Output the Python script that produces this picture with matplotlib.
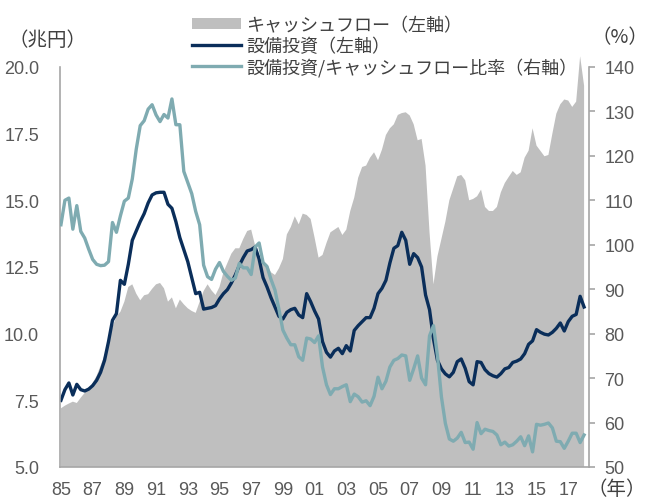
import numpy as np
import matplotlib
matplotlib.use("Agg")
import matplotlib.pyplot as plt
from matplotlib.patches import Patch
from matplotlib.lines import Line2D
from matplotlib import font_manager

# quarterly data, 1985Q1 - 2018Q1
start_year = 1985
cash_flow = [
    7.2, 7.3, 7.38, 7.45, 7.4, 7.6, 7.78, 7.93,
    8.15, 8.42, 8.8, 9.2, 9.7, 10.25, 10.65, 10.82,
    11.2, 11.75, 11.85, 11.5, 11.25, 11.44, 11.48, 11.68,
    11.85, 11.9, 11.7, 11.2, 11.36, 10.95, 11.28, 11.1,
    10.95, 10.85, 10.78, 11.2, 11.6, 11.85, 11.62, 11.45,
    11.75, 12.3, 12.65, 13.0, 13.2, 13.2, 13.55, 13.85,
    13.9, 13.3, 12.85, 12.7, 12.6, 12.3, 12.2, 12.45,
    12.8, 13.72, 14.0, 14.4, 14.1, 14.5, 14.45, 14.3,
    13.6, 12.85, 12.95, 13.4, 13.8, 13.9, 14.0, 13.7,
    13.9, 14.6, 15.1, 15.85, 16.25, 16.3, 16.6, 16.8,
    16.5, 16.9, 17.45, 17.7, 17.85, 18.2, 18.27, 18.3,
    18.18, 17.85, 17.25, 17.3, 16.3, 13.8, 11.85, 12.9,
    13.55, 14.2, 15.0, 15.45, 15.9, 15.95, 15.75, 15.0,
    15.05, 15.15, 15.4, 14.75, 14.6, 14.6, 14.75, 15.3,
    15.65, 15.88, 16.1, 15.95, 16.05, 16.6, 16.86, 17.7,
    17.05, 16.85, 16.65, 16.7, 17.5, 18.25, 18.6, 18.78,
    18.74, 18.5, 18.7, 20.4, 19.3,
]
capex = [
    7.5, 7.9, 8.15, 7.7, 8.1, 7.9, 7.85, 7.92,
    8.05, 8.25, 8.55, 9.0, 9.7, 10.5, 10.75, 12.0,
    11.85, 12.6, 13.5, 13.85, 14.2, 14.5, 14.9, 15.2,
    15.28, 15.3, 15.3, 14.85, 14.7, 14.2, 13.6, 13.15,
    12.7, 12.1, 11.5, 11.55, 10.92, 10.95, 10.98, 11.05,
    11.3, 11.5, 11.65, 11.9, 12.2, 12.55, 12.85, 13.1,
    13.15, 13.25, 12.8, 12.1, 11.75, 11.35, 11.0, 10.65,
    10.55, 10.8, 10.9, 10.95, 10.7, 10.6, 11.5, 11.2,
    10.85, 10.55, 9.7, 9.3, 9.12, 9.35, 9.45, 9.25,
    9.55, 9.35, 10.12, 10.3, 10.45, 10.6, 10.6, 10.95,
    11.5, 11.7, 12.0, 12.65, 13.2, 13.3, 13.8, 13.5,
    12.6, 13.0, 12.85, 12.5, 11.45, 10.9, 9.8, 9.0,
    8.68, 8.49, 8.38, 8.55, 8.95, 9.05, 8.7, 8.2,
    8.08, 8.95, 8.92, 8.65, 8.5, 8.42, 8.37, 8.5,
    8.68, 8.73, 8.92, 8.97, 9.05, 9.25, 9.6, 9.73,
    10.15, 10.05, 9.98, 9.95, 10.05, 10.2, 10.4, 10.1,
    10.45, 10.65, 10.72, 11.4, 11.0,
]
ratio = [
    104.5, 110.0, 110.5, 103.5, 108.8, 103.0, 101.5, 99.0,
    96.7, 95.6, 95.3, 95.4, 96.2, 105.0, 102.8, 106.5,
    109.8, 110.5, 114.8, 121.5, 126.8, 127.9, 130.5, 131.5,
    129.2, 127.7, 129.3, 128.5, 132.8, 127.0, 127.0, 116.5,
    114.0, 111.5, 107.5, 104.5, 95.4, 92.8, 92.2, 94.5,
    96.0, 94.0, 92.9, 92.0, 92.5, 95.8, 94.8, 94.8,
    93.3, 99.5, 100.4, 96.0, 95.1, 92.2, 89.8, 85.5,
    80.8, 79.0, 77.5, 77.5, 74.8, 74.0, 79.0, 78.8,
    78.0, 79.5, 72.5, 68.5, 66.3, 67.6, 67.6, 68.1,
    68.5, 64.7, 66.4, 65.8, 64.6, 64.9, 63.8, 65.9,
    70.2, 67.6, 69.3, 72.5, 74.0, 74.4, 75.2, 75.0,
    69.5, 72.1, 75.0, 70.0, 68.5, 79.5, 81.8, 75.0,
    65.8, 59.8, 56.3, 55.8, 56.5, 57.8, 55.5, 55.6,
    54.0, 60.0, 57.5, 58.5, 58.2, 58.0, 57.2, 55.0,
    55.6, 54.7, 55.0, 55.8, 56.8, 54.8, 57.0, 53.4,
    59.6, 59.4, 59.6, 59.9, 58.8, 55.8, 55.7, 54.2,
    55.8, 57.6, 57.6, 55.5, 57.2,
]
tick_years = list(range(1985, 2018, 2))
tick_labels = [f"{y % 100:02d}" for y in tick_years]
left_ticks = [5.0, 7.5, 10.0, 12.5, 15.0, 17.5, 20.0]
right_ticks = list(range(50, 141, 10))

names = [f.name for f in font_manager.fontManager.ttflist]
num_font = "Liberation Sans Narrow" if "Liberation Sans Narrow" in names else "Liberation Sans"
jp_font = ["Noto Sans CJK JP", "DejaVu Sans"]
plt.rcParams["font.family"] = [num_font, "Noto Sans CJK JP", "DejaVu Sans"]

txt = "#595959"
label_c = "#404040"
grey = "#BFBFBF"
navy = "#0A2E5A"
teal = "#7FABB1"
spine_c = "#A6A6A6"

x = start_year + np.arange(len(capex)) * 0.25

fig = plt.figure(figsize=(6.48, 5.02), dpi=100)
ax = fig.add_axes([60 / 648, 34 / 502, 529 / 648, 421.4 / 502])
ax.fill_between(x, 0, cash_flow, color=grey, lw=0)
ax.plot(x, capex, color=navy, lw=2.4, solid_joinstyle="round")
ax.set_xlim(1984.94, 2018.31)
ax.set_ylim(5, 20.8)
ax.set_yticks(left_ticks)
ax.set_yticklabels([f"{v:.1f}" for v in left_ticks])
ax.set_xticks(tick_years)
ax.set_xticklabels(tick_labels)
ax.tick_params(axis="both", length=0, labelsize=13, colors=txt)
ax.tick_params(axis="y", pad=15)
ax.tick_params(axis="x", pad=10)
for s in ["top", "right"]:
    ax.spines[s].set_visible(False)
ax.spines["left"].set_bounds(5, 20)
for s in ["left", "bottom"]:
    ax.spines[s].set_color(spine_c)
    ax.spines[s].set_linewidth(1.2)

ax2 = ax.twinx()
ax2.plot(x, ratio, color=teal, lw=2.4, solid_joinstyle="round")
ax2.set_ylim(50, 50 + 15.8 * 6)
ax2.set_yticks(right_ticks)
ax2.tick_params(axis="y", length=4, width=1.2, color=spine_c, labelsize=13,
                labelcolor=txt, pad=7)
for s in ["top", "left", "bottom"]:
    ax2.spines[s].set_visible(False)
ax2.spines["right"].set_bounds(50, 140)
ax2.spines["right"].set_color(spine_c)
ax2.spines["right"].set_linewidth(1.2)

fig.text(8 / 648, 1 - 40 / 502, "（兆円）", family=jp_font, fontsize=14,
         color=label_c, va="center", ha="left")
fig.text(648 / 648, 1 - 38 / 502, "（%）", family=jp_font, fontsize=14,
         color=label_c, va="center", ha="right")
fig.text(646 / 648, 1 - 490 / 502, "（年）", family=jp_font, fontsize=14,
         color=label_c, va="center", ha="right")

handles = [Patch(facecolor=grey, edgecolor="none"),
           Line2D([], [], color=navy, lw=2.4),
           Line2D([], [], color=teal, lw=2.4)]
labels = ["キャッシュフロー（左軸）", "設備投資（左軸）", "設備投資/キャッシュフロー比率（右軸）"]
fig.legend(handles, labels, loc="upper left", bbox_to_anchor=(183 / 648, 1 - 8 / 502),
           frameon=False, borderpad=0, handlelength=2.7, handleheight=0.6,
           handletextpad=0.3, labelspacing=0.15,
           prop={"family": jp_font, "size": 13}, labelcolor=label_c)

fig.savefig("out.png", dpi=100)
